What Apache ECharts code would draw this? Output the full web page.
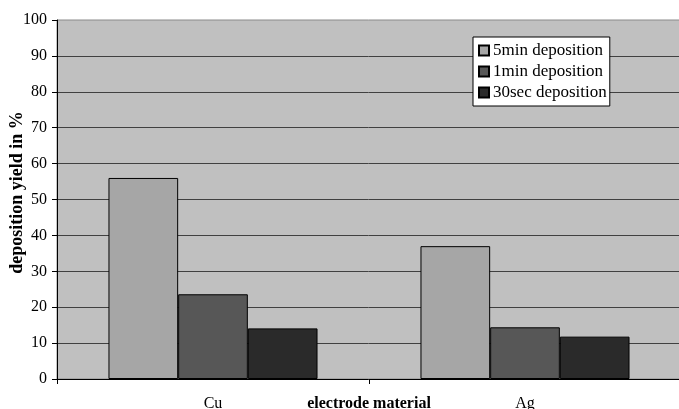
<!DOCTYPE html>
<html>
<head>
<meta charset="utf-8">
<script src="https://cdn.jsdelivr.net/npm/echarts@6/dist/echarts.min.js"></script>
<style>html,body{margin:0;padding:0;background:#fff;}#c{width:679px;height:409px;}</style>
</head>
<body>
<div id="c"></div>
<script>
const categories = ['Cu', 'Ag'];
const seriesNames = ['5min deposition', '1min deposition', '30sec deposition'];
const values5min = [56, 37];
const values1min = [23.6, 14.4];
const values30sec = [14.1, 11.8];
const yTicks = [0, 10, 20, 30, 40, 50, 60, 70, 80, 90, 100];
const colors = ['#a6a6a6', '#575757', '#2a2a2a'];
const allValues = [values5min, values1min, values30sec];

const font = 'Liberation Serif';
const chart = echarts.init(document.getElementById('c'), null, {renderer: 'canvas'});
chart.setOption({
  animation: false,
  textStyle: {fontFamily: font},
  grid: {left: 57, right: -2, top: 20, bottom: 30, show: true, backgroundColor: '#c0c0c0', borderColor: '#8a8a8a', borderWidth: 1, containLabel: false, outerBoundsMode: 'none'},
  legend: {
    orient: 'vertical', left: 473, top: 37,
    backgroundColor: '#fff', borderColor: '#000', borderWidth: 1,
    padding: [5, 3, 5, 5], itemGap: 4, itemWidth: 10, itemHeight: 10,
    textStyle: {fontFamily: font, fontSize: 17, lineHeight: 17, color: '#000', padding: [0, 0, 0, -1]},
    data: seriesNames.map(n => ({name: n, icon: 'rect'}))
  },
  xAxis: {
    type: 'category', data: categories,
    name: 'electrode material', nameLocation: 'middle', nameGap: 17, nameMoveOverlap: false,
    nameTextStyle: {fontFamily: font, fontSize: 16, fontWeight: 'bold', color: '#000'},
    axisLine: {lineStyle: {color: '#000', width: 1}},
    axisTick: {show: true, length: 5, lineStyle: {color: '#000'}},
    axisLabel: {fontFamily: font, fontSize: 16, color: '#000', margin: 17},
    splitLine: {show: false}
  },
  yAxis: {
    type: 'value', min: 0, max: 100, interval: 10,
    name: 'deposition yield in %', nameLocation: 'middle', nameGap: 31, nameMoveOverlap: false,
    nameTextStyle: {fontFamily: font, fontSize: 18, fontWeight: 'bold', color: '#000', padding: [0, 0, 0, 14]},
    axisLine: {show: true, lineStyle: {color: '#000', width: 1}},
    axisTick: {show: true, length: 5, lineStyle: {color: '#000'}},
    axisLabel: {fontFamily: font, fontSize: 16, color: '#000', margin: 10,
      formatter: v => yTicks.includes(v) ? String(v) : ''},
    splitLine: {show: true, showMaxLine: false, showMinLine: false, lineStyle: {color: '#404040', width: 1}}
  },
  series: seriesNames.map((n, i) => ({
    name: n, type: 'bar', data: allValues[i],
    barGap: '0%', barCategoryGap: '33%',
    itemStyle: {color: colors[i], borderColor: '#000', borderWidth: 1}
  }))
});
</script>
</body>
</html>
